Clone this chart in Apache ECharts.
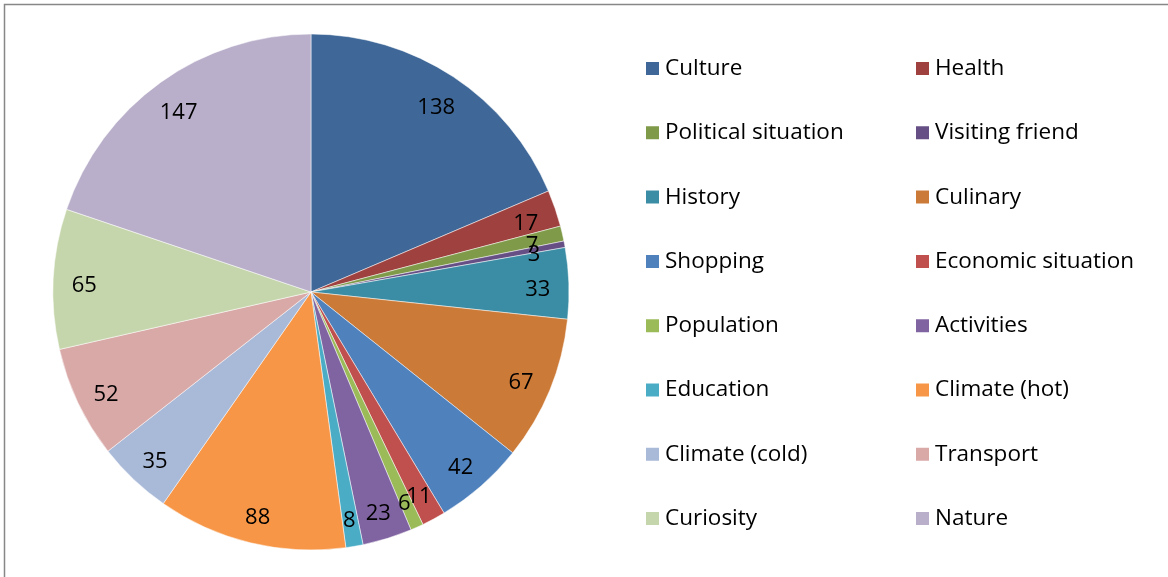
<!DOCTYPE html>
<html>
<head>
<meta charset="utf-8">
<script src="https://cdn.jsdelivr.net/npm/echarts@6/dist/echarts.min.js"></script>
<style>
html, body { margin: 0; padding: 0; background: #fff; }
#chart { width: 1168px; height: 577px; }
</style>
</head>
<body>
<div id="chart"></div>
<script>
const categories = [
    "Culture", "Health", "Political situation", "Visiting friend",
    "History", "Culinary", "Shopping", "Economic situation",
    "Population", "Activities", "Education", "Climate (hot)",
    "Climate (cold)", "Transport", "Curiosity", "Nature"
];
const counts = [138, 17, 7, 3, 33, 67, 42, 11, 6, 23, 8, 88, 35, 52, 65, 147];
const colors = [
    "#3F6898", "#9F413E", "#7F9A48", "#664F85",
    "#3A8DA4", "#CC7A37", "#4F81BD", "#C0504D",
    "#9BBB59", "#8064A2", "#4BACC6", "#F79646",
    "#A9B9D8", "#D9A9A8", "#C6D6AC", "#B9AFCA"
];
// labels that sit on top of a neighbour's label go in their own layer
const crowded = ["Visiting friend", "Population"];

const pieData = categories.map((name, i) => ({
    name: name,
    value: counts[i],
    itemStyle: { color: colors[i] }
}));

const leftCol = categories.filter((c, i) => i % 2 === 0);
const rightCol = categories.filter((c, i) => i % 2 === 1);

const legendBase = {
    orient: "vertical",
    top: 57,
    padding: 0,
    itemWidth: 15,
    itemHeight: 15,
    itemGap: 41.3,
    icon: "rect",
    selectedMode: false,
    textStyle: {
        fontFamily: "Open Sans",
        fontSize: 22.5,
        lineHeight: 22,
        color: "#000"
    }
};

const labelStyle = {
    position: "inside",
    formatter: "{c}",
    fontFamily: "Open Sans",
    fontSize: 22,
    color: "#000",
    offset: [0, 5]
};

function labelSeries(showFn) {
    return {
        type: "pie",
        center: [311, 292],
        radius: [0, 448],
        startAngle: 90,
        clockwise: true,
        silent: true,
        minShowLabelAngle: 0,
        avoidLabelOverlap: false,
        labelLayout: { hideOverlap: false },
        itemStyle: { color: "rgba(0,0,0,0)", borderWidth: 0 },
        labelLine: { show: false },
        data: categories.map((name, i) => ({
            name: name,
            value: counts[i],
            label: Object.assign({}, labelStyle, { show: showFn(name) })
        }))
    };
}

const chart = echarts.init(document.getElementById("chart"));
chart.setOption({
    animation: false,
    graphic: [{
        type: "rect",
        shape: { x: 4.5, y: 4.5, width: 1300, height: 700 },
        style: { fill: "none", stroke: "#878787", lineWidth: 1.5 },
        silent: true
    }],
    legend: [
        Object.assign({}, legendBase, { left: 644, data: leftCol }),
        Object.assign({}, legendBase, { left: 914, data: rightCol })
    ],
    series: [
        {
            type: "pie",
            center: [311, 292],
            radius: [0, 258],
            startAngle: 90,
            clockwise: true,
            avoidLabelOverlap: false,
            itemStyle: { borderColor: "#fff", borderWidth: 0.5 },
            label: { show: false },
            labelLine: { show: false },
            data: pieData
        },
        labelSeries(n => crowded.indexOf(n) < 0),
        labelSeries(n => crowded.indexOf(n) >= 0)
    ]
});
</script>
</body>
</html>
